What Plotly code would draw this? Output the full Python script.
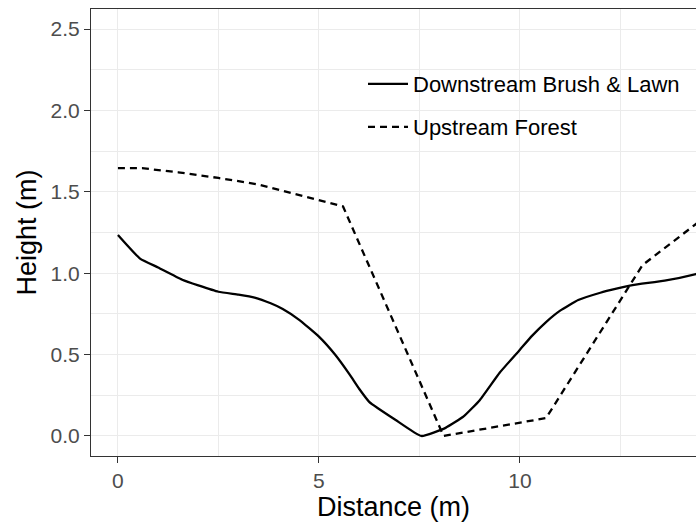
import plotly.graph_objects as go

# Downstream Brush & Lawn (solid)
down_x = [0.0, 0.55, 1.0, 1.6, 2.0, 2.5, 3.0, 3.4, 3.8, 4.1, 4.5, 5.0, 5.4, 5.77, 6.0, 6.25, 6.9, 7.55,
          8.15, 8.6, 9.0, 9.5, 10.0, 10.3, 10.65, 11.0, 11.45, 12.0, 12.4, 12.8, 13.6, 14.38, 15.0]
down_y = [1.235, 1.09, 1.035, 0.96, 0.925, 0.886, 0.868, 0.85, 0.815, 0.78, 0.715, 0.61, 0.50, 0.375, 0.29, 0.21, 0.10, 0.0,
          0.05, 0.12, 0.22, 0.39, 0.53, 0.615, 0.70, 0.77, 0.835, 0.88, 0.905, 0.927, 0.954, 0.995, 1.04]

# Upstream Forest (dashed)
up_x = [0.0, 0.6, 1.5, 2.5, 3.5, 4.5, 5.6, 8.1, 10.65, 13.05, 15.0]
up_y = [1.645, 1.645, 1.62, 1.585, 1.545, 1.48, 1.41, 0.0, 0.11, 1.05, 1.42]

x_ticks = [0, 5, 10]
y_ticks = [0.0, 0.5, 1.0, 1.5, 2.0, 2.5]
y_tick_labels = ["0.0", "0.5", "1.0", "1.5", "2.0", "2.5"]

FONT = "Liberation Sans, Arial, Helvetica, sans-serif"

fig = go.Figure()
fig.add_trace(go.Scatter(
    x=down_x, y=down_y, mode="lines", name="Downstream Brush & Lawn",
    line=dict(color="black", width=2.3, shape="spline", smoothing=0.4),
    legend="legend",
))
fig.add_trace(go.Scatter(
    x=up_x, y=up_y, mode="lines", name="Upstream Forest",
    line=dict(color="black", width=2.3, dash="7px,5px"),
    legend="legend2",
))

L, R, T, B = 91, 0, 9, 67
W, H = 696, 523
pw = W - L - R
ph = H - T - B

def px_x(p):
    return (p - L) / pw

def px_y(p):
    return (H - B - p) / ph

grid_major = "#ebebeb"
axis_common = dict(
    showline=True, linecolor="#333333", linewidth=1.2,
    ticks="outside", ticklen=6, tickwidth=1.3, tickcolor="#333333",
    tickfont=dict(family=FONT, size=21, color="#4d4d4d"),
    gridcolor=grid_major, gridwidth=1.4, zeroline=False,
)

fig.update_layout(
    width=W, height=H,
    margin=dict(l=L, r=R, t=T, b=B, pad=0),
    paper_bgcolor="white", plot_bgcolor="white",
    font=dict(family=FONT, color="black"),
    xaxis=dict(
        range=[-0.67, 14.38], tickvals=x_ticks, ticktext=[str(v) for v in x_ticks],
        mirror=True,
        minor=dict(dtick=2.5, tick0=0, showgrid=True, gridcolor=grid_major, gridwidth=0.7, ticks=""),
        title=dict(text="Distance (m)", font=dict(family=FONT, size=27, color="black"), standoff=4),
        **axis_common,
    ),
    yaxis=dict(
        range=[-0.123, 2.623], tickvals=y_ticks, ticktext=y_tick_labels,
        minor=dict(dtick=0.25, tick0=0, showgrid=True, gridcolor=grid_major, gridwidth=0.7, ticks=""),
        title=dict(text="Height (m)", font=dict(family=FONT, size=27, color="black"), standoff=6),
        **axis_common,
    ),
    legend=dict(
        x=px_x(363), xanchor="left", y=px_y(84), yanchor="middle",
        bgcolor="rgba(0,0,0,0)", borderwidth=0, itemwidth=40,
        font=dict(family=FONT, size=22, color="black"),
    ),
    legend2=dict(
        x=px_x(363), xanchor="left", y=px_y(127), yanchor="middle",
        bgcolor="rgba(0,0,0,0)", borderwidth=0, itemwidth=40,
        font=dict(family=FONT, size=22, color="black"),
    ),
    showlegend=True,
    shapes=[dict(
        type="rect", xref="paper", yref="paper",
        x0=px_x(347), x1=1.0, y0=px_y(162), y1=px_y(33),
        fillcolor="white", line=dict(width=0), layer="between",
    )],
)

fig.write_html("out.html")
